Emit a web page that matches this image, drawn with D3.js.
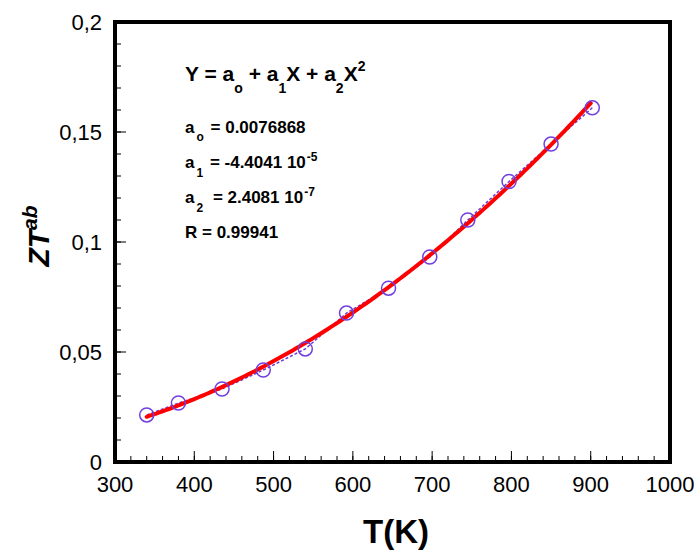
<!DOCTYPE html>
<html><head><meta charset="utf-8">
<script src="https://cdn.jsdelivr.net/npm/d3@7"></script>
<style>body{margin:0;background:#fff}svg{display:block}</style>
</head><body>
<svg id="c" width="700" height="553"></svg>
<script>
// Data
const temps = [340, 380, 435, 487, 540, 592, 645, 697, 745, 797, 850, 902];
const zt    = [0.0214, 0.0268, 0.0332, 0.0418, 0.0514, 0.0677, 0.0790, 0.0932, 0.1100, 0.1275, 0.1445, 0.1610];
// Fit coefficients shown in the chart
const coefA0 = 0.0076868, coefA1 = -4.4041e-5, coefA2 = 2.4081e-7;
const xTicks = [300, 400, 500, 600, 700, 800, 900, 1000];
const yTicks = [0, 0.05, 0.1, 0.15, 0.2];
const yTickLabels = ["0", "0,05", "0,1", "0,15", "0,2"];

const svg = d3.select("#c");
const L = 115, R = 670, T = 22, B = 462;
const x = d3.scaleLinear().domain([300, 1000]).range([L, R]);
const y = d3.scaleLinear().domain([0, 0.2]).range([B, T]);
const ff = "Liberation Sans, Arial, sans-serif";

// minor ticks
const xMinor = d3.range(300, 1001, 20);
const yMinor = d3.range(0, 0.2001, 0.01);
const g = svg.append("g");
g.selectAll(".xm").data(xMinor).enter().append("line")
  .attr("x1", d => x(d)).attr("x2", d => x(d))
  .attr("y1", B).attr("y2", B - 6).attr("stroke", "#000").attr("stroke-width", 1);
g.selectAll(".xM").data(xTicks).enter().append("line")
  .attr("x1", d => x(d)).attr("x2", d => x(d))
  .attr("y1", B).attr("y2", B - 11).attr("stroke", "#000").attr("stroke-width", 1);
g.selectAll(".ym").data(yMinor).enter().append("line")
  .attr("x1", L).attr("x2", L + 6)
  .attr("y1", d => y(d)).attr("y2", d => y(d)).attr("stroke", "#000").attr("stroke-width", 1);
g.selectAll(".yM").data(yTicks).enter().append("line")
  .attr("x1", L).attr("x2", L + 11)
  .attr("y1", d => y(d)).attr("y2", d => y(d)).attr("stroke", "#000").attr("stroke-width", 1);

// tick labels
svg.selectAll(".xl").data(xTicks).enter().append("text")
  .attr("x", d => x(d)).attr("y", B + 30)
  .attr("text-anchor", "middle").attr("font-family", ff)
  .attr("font-size", 22).text(d => d);
svg.selectAll(".yl").data(yTicks).enter().append("text")
  .attr("x", L - 13).attr("y", d => y(d) + 7.5)
  .attr("text-anchor", "end").attr("font-family", ff)
  .attr("font-size", 22).text((d, i) => yTickLabels[i]);

// dashed line through points
const line = d3.line().x(d => x(d[0])).y(d => y(d[1]));
const pts = temps.map((t, i) => [t, zt[i]]);
svg.append("path").attr("d", line(pts)).attr("fill", "none")
  .attr("stroke", "#6a3fd8").attr("stroke-width", 1.5).attr("stroke-dasharray", "3,2");

// fit curve from coefficients
const fitX = d3.range(340, 902.01, 4);
const fitPts = fitX.map(t => [t, coefA0 + coefA1 * t + coefA2 * t * t]);
svg.append("path").attr("d", line(fitPts)).attr("fill", "none")
  .attr("stroke", "#ff0000").attr("stroke-width", 4).attr("stroke-linecap", "round");

// markers
svg.selectAll(".pt").data(pts).enter().append("circle")
  .attr("cx", d => x(d[0])).attr("cy", d => y(d[1])).attr("r", 7)
  .attr("fill", "none").attr("stroke", "#7040e0").attr("stroke-width", 1.5);

// frame
svg.append("rect").attr("x", L).attr("y", T).attr("width", R - L).attr("height", B - T)
  .attr("fill", "none").attr("stroke", "#000").attr("stroke-width", 4);

// annotations
function ann(xp, yp, size, parts) {
  const t = svg.append("text").attr("x", xp).attr("y", yp)
    .attr("font-family", ff).attr("font-weight", "bold").attr("font-size", size);
  parts.forEach(p => {
    const s = t.append("tspan").text(p.t);
    if (p.dy) s.attr("dy", p.dy);
    if (p.dx) s.attr("dx", p.dx);
    if (p.fs) s.attr("font-size", p.fs);
  });
}
ann(185, 81, 21, [
  {t: "Y = a"}, {t: "o", dy: 12, fs: 14}, {t: " + a", dy: -12}, {t: "1", dy: 12, fs: 14},
  {t: "X + a", dy: -12}, {t: "2", dy: 12, fs: 14}, {t: "X", dy: -12}, {t: "2", dy: -10, fs: 14}
]);
ann(185, 133, 17, [{t: "a"}, {t: "o", dy: 8, dx: 2, fs: 12}, {t: " = 0.0076868", dy: -8, dx: 2}]);
ann(185, 168, 17, [{t: "a"}, {t: "1", dy: 9, dx: 2, fs: 12}, {t: " = -4.4041 10", dy: -9, dx: 2}, {t: "-5", dy: -7, dx: 1, fs: 12}]);
ann(185, 203, 17, [{t: "a"}, {t: "2", dy: 9, dx: 2, fs: 12}, {t: " = 2.4081 10", dy: -9, dx: 5}, {t: "-7", dy: -7, dx: 1, fs: 12}]);
ann(185, 238, 17, [{t: "R = 0.99941"}]);

// axis titles
svg.append("text").attr("x", 396).attr("y", 543).attr("text-anchor", "middle")
  .attr("font-family", ff).attr("font-weight", "bold").attr("font-size", 33).text("T(K)");
const yt = svg.append("text").attr("transform", "translate(49,236) rotate(-90)")
  .attr("text-anchor", "middle").attr("font-family", ff).attr("font-weight", "bold")
  .attr("font-style", "italic").attr("font-size", 30);
yt.append("tspan").text("ZT");
yt.append("tspan").text("ab").attr("dy", -12).attr("font-size", 21);
</script>
</body></html>
